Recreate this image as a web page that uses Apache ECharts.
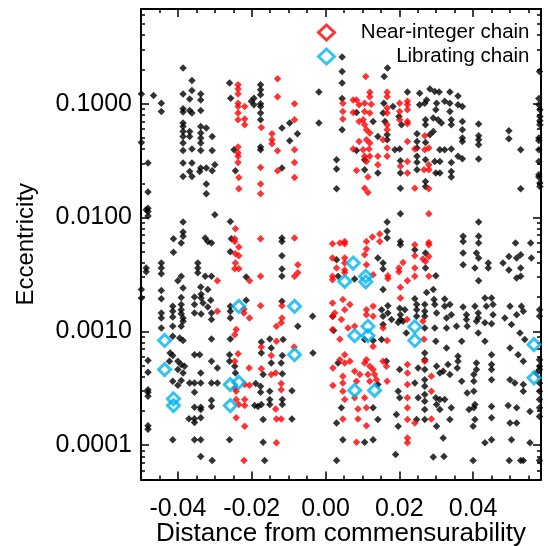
<!DOCTYPE html>
<html><head><meta charset="utf-8">
<script src="https://cdn.jsdelivr.net/npm/echarts@6/dist/echarts.min.js"></script>
<style>html,body{margin:0;padding:0;background:#fff}#c{width:548px;height:546px}</style>
</head><body><div id="c"></div>
<script>
const xMajorTicks=[-0.04,-0.02,0,0.02,0.04];
const yMajorTicks=[0.0001,0.001,0.01,0.1];
const yMinorTicks=[0.00006,0.00007,0.00008,0.00009,0.0002,0.0003,0.0004,0.0005,0.0006,0.0007,0.0008,0.0009,0.002,0.003,0.004,0.005,0.006,0.007,0.008,0.009,0.02,0.03,0.04,0.05,0.06,0.07,0.08,0.09,0.2,0.3,0.4,0.5,0.6];

const otherSystems=[
[-0.0386,0.206],[-0.0362,0.160],[-0.0260,0.152],[-0.0176,0.147],[0.0045,0.257],[0.0045,0.192],[0.0168,0.206],[0.0159,0.174],
[-0.0499,0.122],[-0.0466,0.118],[-0.0386,0.122],[-0.0362,0.131],[-0.0338,0.122],[-0.0176,0.133],[-0.0176,0.120],[-0.0018,0.127],
[-0.0257,0.112],[-0.0368,0.110],[-0.0338,0.108],[-0.0194,0.112],[-0.0201,0.105],[-0.0445,0.101],[-0.0445,0.0856],[-0.0386,0.0904],
[-0.0386,0.0846],[-0.0368,0.0873],[-0.0362,0.0829],[-0.0338,0.0873],[-0.0194,0.098],[-0.0176,0.100],[-0.0176,0.0947],[-0.0176,0.0829],
[-0.0176,0.0724],[-0.0097,0.0677],[-0.0018,0.0677],[-0.0386,0.0677],[-0.0386,0.0632],[-0.0338,0.0632],[-0.0323,0.0612],[-0.0118,0.0612],
[-0.0386,0.0571],[-0.0368,0.0571],[-0.0386,0.0516],[-0.0368,0.0516],[-0.0338,0.0553],[-0.0338,0.0500],[-0.0307,0.0516],[-0.0076,0.0545],
[-0.0386,0.0452],[-0.0338,0.0452],[-0.0499,0.0457],[-0.0097,0.0473],[-0.0386,0.0389],[-0.0362,0.0400],[-0.0338,0.0389],[-0.0307,0.0389],
[-0.0248,0.0394],[-0.0176,0.0417],[-0.0176,0.0394],[0.0030,0.0322],[-0.0481,0.0302],[-0.0386,0.0302],[-0.0362,0.0302],[-0.0323,0.0272],
[-0.0300,0.0291],[-0.0338,0.0272],[-0.0341,0.0254],[-0.0307,0.0258],[-0.0368,0.0254],[-0.0362,0.0230],[-0.0386,0.0230],[-0.0244,0.0258],
[-0.0118,0.0272],[0.0030,0.0267],[-0.0323,0.0197],[-0.0323,0.0162],[-0.0481,0.0168],[0.0030,0.0179],[-0.0486,0.0117],[-0.0481,0.0121],[-0.0481,0.0103],
[0.0045,0.152],[0.0045,0.111],[0.0045,0.0591],[0.0084,0.0839],[0.0084,0.0389],[0.0106,0.0322],[0.0106,0.0263],[0.0158,0.101],
[0.0156,0.0829],[0.0129,0.0700],[0.0161,0.0700],[0.0167,0.0534],[0.0142,0.0516],[0.0167,0.0483],[0.0142,0.0246],[0.0183,0.0947],
[0.0222,0.127],[0.0199,0.0774],[0.0206,0.0654],[0.0188,0.0394],[0.0201,0.0400],[0.0203,0.0315],[0.0203,0.0246],[0.0203,0.0181],
[0.0255,0.124],[0.0255,0.098],[0.0269,0.101],[0.0274,0.108],[0.0283,0.135],[0.0296,0.128],[0.0308,0.127],[0.0301,0.101],
[0.0299,0.0886],[0.0323,0.105],[0.0337,0.127],[0.0337,0.101],[0.0337,0.0856],[0.0359,0.117],[0.0359,0.098],[0.0371,0.0947],
[0.0271,0.0724],[0.0271,0.0654],[0.0292,0.0749],[0.0305,0.0724],[0.0314,0.0677],[0.0341,0.0724],[0.0341,0.0654],[0.0371,0.0700],
[0.0371,0.0591],[0.0371,0.0500],[0.0371,0.0467],[0.0292,0.0571],[0.0283,0.0534],[0.0248,0.0545],[0.0248,0.0467],[0.0248,0.0408],
[0.0271,0.0457],[0.0310,0.0394],[0.0323,0.0394],[0.0341,0.0400],[0.0248,0.0345],[0.0248,0.0307],[0.0248,0.0263],[0.0271,0.0322],
[0.0296,0.0311],[0.0310,0.0311],[0.0310,0.0246],[0.0299,0.0246],[0.0341,0.0304],[0.0341,0.0254],[0.0341,0.0227],[0.0359,0.0345],
[0.0371,0.0329],[0.0271,0.0208],[0.0271,0.0188],[0.0415,0.0663],[0.0415,0.0524],[0.0415,0.0483],[0.0415,0.0437],[0.0415,0.0327],
[0.0497,0.0579],[0.0497,0.0493],[0.0529,0.0394],[0.0529,0.0179],[0.0578,0.111],[0.0578,0.098],[0.0581,0.0886],[0.0581,0.0774],
[0.0581,0.0710],[0.0581,0.0654],[0.0578,0.0500],[0.0578,0.0476],[0.0578,0.0394],[0.0578,0.0238],[0.0578,0.0227],[0.0581,0.0201],
[0.0581,0.0188],[0.0578,0.0311],[0.0580,0.192],
[-0.0481,0.0113],[-0.0300,0.0106],[-0.0386,0.00915],[-0.0258,0.00926],[-0.0386,0.00747],[-0.0386,0.00684],[-0.0412,0.00653],[-0.0391,0.00598],
[-0.0326,0.00662],[-0.0319,0.00618],[-0.0309,0.00598],[-0.0255,0.00653],[-0.0118,0.00662],[-0.0118,0.00618],[-0.0412,0.00496],[-0.0258,0.00500],
[-0.0118,0.00463],[-0.0486,0.00360],[-0.0486,0.00334],[-0.0445,0.00399],[-0.0445,0.00360],[-0.0445,0.00321],[-0.0346,0.00399],[-0.0346,0.00360],
[-0.0346,0.00327],[-0.0118,0.00353],[0.0034,0.00305],[-0.0391,0.00305],[-0.0400,0.00279],[-0.0326,0.00305],[-0.0309,0.00305],[-0.0215,0.00301],
[-0.0118,0.00305],[-0.0445,0.00229],[-0.0499,0.00233],[-0.0499,0.00197],[-0.0386,0.00241],[-0.0338,0.00246],[-0.0319,0.00233],[-0.0337,0.00212],
[-0.0445,0.00194],[-0.0391,0.00199],[-0.0355,0.00201],[-0.0337,0.00197],[-0.0311,0.00188],[-0.0215,0.00188],[-0.0118,0.00184],[-0.0414,0.00166],
[-0.0391,0.00172],[-0.0391,0.00155],[-0.0355,0.00172],[-0.0332,0.00178],[-0.0319,0.00164],[-0.0258,0.00166],[-0.0414,0.00150],[-0.0414,0.00134],
[-0.0391,0.00143],[-0.0386,0.00131],[-0.0355,0.00145],[-0.0337,0.00142],[-0.0309,0.00145],[-0.0309,0.00127],[-0.0258,0.00150],[-0.0258,0.00131],
[-0.0035,0.00136],[-0.0445,0.00145],[-0.0445,0.00131],
[-0.0445,0.00107],[-0.0414,0.00111],[-0.0391,0.00111],[-0.0386,0.00123],[-0.0075,0.00111],[-0.0414,0.000906],[-0.0395,0.000874],[-0.0386,0.000833],
[-0.0309,0.000859],[-0.0258,0.000859],[-0.0151,0.000859],[-0.0174,0.000807],[-0.0115,0.000847],[-0.0147,0.000716],[-0.0034,0.000647],[-0.0117,0.000613],
[-0.0174,0.000647],[-0.0421,0.000647],[-0.0414,0.000613],[-0.0355,0.000625],[-0.0341,0.000625],[-0.0260,0.000625],[-0.0481,0.000554],[-0.0423,0.000546],
[-0.0400,0.000546],[-0.0391,0.000511],[-0.0382,0.000494],[-0.0309,0.000546],[-0.0260,0.000546],[-0.0293,0.000478],[-0.0246,0.000494],[-0.0147,0.000529],
[-0.0120,0.000529],[0.0034,0.000529],[-0.0481,0.000437],[-0.0400,0.000462],[-0.0386,0.000432],[-0.0338,0.000432],[-0.0244,0.000432],[-0.0169,0.000418],
[-0.0117,0.000425],[-0.0414,0.000365],[-0.0391,0.000370],[-0.0400,0.000336],[-0.0368,0.000353],[-0.0355,0.000353],[-0.0338,0.000353],[-0.0309,0.000353],
[-0.0293,0.000353],[-0.0355,0.000292],[-0.0189,0.000348],[-0.0176,0.000329],[-0.0176,0.000292],[-0.0151,0.000298],[-0.0091,0.000301],[-0.0481,0.000308],
[-0.0481,0.000292],[-0.0355,0.000216],[-0.0338,0.000216],[-0.0338,0.000206],[-0.0309,0.000248],[-0.0309,0.000219],[-0.0192,0.000223],[-0.0183,0.000219],
[-0.0174,0.000228],[-0.0151,0.000252],[-0.0151,0.000228],[-0.0117,0.000252],[-0.0117,0.000228],[-0.0370,0.000171],[-0.0355,0.000171],[-0.0338,0.000174],
[-0.0355,0.000158],[-0.0169,0.000168],[-0.0091,0.000170],[-0.0481,0.000148],[-0.0481,0.000138],[0.0030,0.000157],[-0.0414,0.000112],[-0.0355,0.000112],
[-0.0338,0.000112],[-0.0260,0.000112],[-0.0169,0.000106],[-0.0338,0.0000797],[-0.0307,0.0000735],[-0.0165,0.0000735],[0.0030,0.0000735],[0.0190,0.0000828],
[0.0292,0.0000788],[0.0321,0.0000797],[0.0400,0.0000735],[0.0498,0.0000735],[0.0529,0.0000735],[0.0536,0.0000735],[0.0580,0.0000735],[-0.0481,0.000269],
[0.0203,0.0108],[0.0167,0.00915],[0.0167,0.00757],[0.0167,0.00662],[0.0415,0.00915],[0.0203,0.00618],[0.0203,0.00578],[0.0242,0.00523],
[0.0271,0.00489],[0.0271,0.00360],[0.0156,0.00353],[0.0156,0.00399],[0.0142,0.00442],[0.0299,0.00309],[0.0156,0.00233],[0.0030,0.00426],
[0.0079,0.00289],[0.0292,0.00233],[0.0242,0.00194],[0.0274,0.00220],[0.0294,0.00191],[0.0323,0.00193],[0.0337,0.00172],[0.0373,0.00684],
[0.0373,0.00618],[0.0373,0.00489],[0.0373,0.00386],[0.0415,0.00684],[0.0415,0.00598],[0.0409,0.00489],[0.0415,0.00442],[0.0441,0.00399],
[0.0441,0.00360],[0.0405,0.00360],[0.0415,0.00279],[0.0481,0.00399],[0.0497,0.00456],[0.0515,0.00598],[0.0518,0.00442],[0.0529,0.00472],
[0.0497,0.00346],[0.0529,0.00360],[0.0529,0.00305],[0.0518,0.00295],[0.0556,0.00598],[0.0558,0.00442],[0.0432,0.00197],[0.0450,0.00197],
[0.0436,0.00166],[0.0454,0.00172],[0.0500,0.00166],[0.0531,0.00166],[0.0373,0.00164],[0.0405,0.00166],[0.0414,0.00145],[0.0382,0.00140],
[0.0382,0.00127],[0.0414,0.00131],[0.0518,0.00140],[0.0536,0.00150],[0.0580,0.00155],[0.0580,0.00136],[0.0486,0.00131],[0.0454,0.00140],
[0.0169,0.00168],[0.0169,0.00145],[0.0201,0.00160],[0.0203,0.00140],[0.0203,0.00127],[0.0215,0.00155],[0.0247,0.00172],[0.0247,0.00155],
[0.0247,0.00136],[0.0269,0.00172],[0.0269,0.00150],[0.0269,0.00136],[0.0296,0.00172],[0.0301,0.00145],[0.0323,0.00166],[0.0341,0.00140],
[0.0328,0.00131],[0.0156,0.00136],[0.0152,0.00155],[0.0179,0.00127],[0.0020,0.00136],[0.0156,0.00115],[0.0197,0.00120],
[0.0022,0.00102],[0.0106,0.000847],[0.0129,0.000833],[0.0152,0.000847],[0.0210,0.00123],[0.0219,0.000970],[0.0269,0.00107],[0.0296,0.00107],
[0.0299,0.000818],[0.0328,0.00107],[0.0328,0.000716],[0.0355,0.00111],[0.0384,0.00111],[0.0409,0.00123],[0.0432,0.00119],[0.0432,0.000818],
[0.0450,0.00117],[0.0414,0.000970],[0.0450,0.000625],[0.0504,0.00115],[0.0527,0.000970],[0.0540,0.000847],[0.0500,0.000716],[0.0522,0.000625],
[0.0536,0.000546],[0.0580,0.000565],[0.0580,0.000494],[0.0580,0.000462],[0.0572,0.000432],[0.0580,0.000353],[0.0580,0.000298],[0.0580,0.000252],
[0.0580,0.000213],[0.0580,0.000179],[0.0554,0.000198],[0.0536,0.000298],[0.0536,0.000341],[0.0513,0.000353],[0.0500,0.000377],[0.0518,0.000213],
[0.0495,0.000223],[0.0554,0.000105],[0.0500,0.000157],[0.0518,0.000157],[0.0504,0.000112],[0.0450,0.000511],[0.0450,0.000462],[0.0450,0.000377],
[0.0450,0.000219],[0.0450,0.000174],[0.0450,0.000112],[0.0432,0.000105],[0.0402,0.000418],[0.0402,0.000365],[0.0402,0.000298],[0.0405,0.000228],
[0.0402,0.000213],[0.0409,0.000529],[0.0409,0.000462],[0.0405,0.000168],[0.0400,0.000147],[0.0384,0.000288],[0.0389,0.000206],[0.0369,0.000365],
[0.0369,0.000818],[0.0359,0.000604],[0.0359,0.000546],[0.0357,0.000478],[0.0337,0.000418],[0.0332,0.000511],[0.0319,0.000446],[0.0301,0.000494],
[0.0310,0.000432],[0.0299,0.000261],[0.0310,0.000252],[0.0323,0.000252],[0.0301,0.000228],[0.0310,0.000206],[0.0341,0.000213],[0.0337,0.000168],
[0.0301,0.000147],[0.0319,0.000116],[0.0269,0.000647],[0.0269,0.000565],[0.0269,0.000462],[0.0269,0.000377],[0.0269,0.000329],[0.0269,0.000279],
[0.0269,0.000243],[0.0269,0.000206],[0.0269,0.000168],[0.0251,0.000478],[0.0242,0.000353],[0.0251,0.000261],[0.0247,0.000168],[0.0201,0.000462],
[0.0197,0.000298],[0.0201,0.000261],[0.0192,0.000186],[0.0197,0.000147],[0.0165,0.000546],[0.0142,0.000341],[0.0129,0.000213],[0.0142,0.000168],
[0.0043,0.000213],[0.0047,0.000112],[0.0106,0.000106],[0.0129,0.000112]
];

const nearIntegerChain=[
[-0.0237,0.147],[-0.0130,0.166],[-0.0237,0.135],[-0.0237,0.122],[-0.0130,0.115],[-0.0237,0.101],[-0.0237,0.0947],[-0.0219,0.0947],
[-0.0084,0.100],[-0.0237,0.0829],[-0.0237,0.0724],[-0.0219,0.0734],[-0.0219,0.0654],[-0.0084,0.0724],[-0.0174,0.0619],[-0.0145,0.0545],
[-0.0145,0.0483],[-0.0145,0.0446],[-0.0237,0.0417],[-0.0237,0.0369],[-0.0130,0.0387],[-0.0084,0.0394],[-0.0237,0.0345],[-0.0237,0.0304],
[-0.0176,0.0276],[-0.0130,0.0258],[-0.0084,0.0304],[-0.0084,0.0225],[-0.0235,0.0225],[-0.0235,0.0179],[-0.0176,0.0197],[-0.0176,0.0162],
[0.0109,0.174],[0.0047,0.101],[0.0047,0.0856],[0.0047,0.0734],[0.0075,0.108],[0.0084,0.108],[0.0075,0.0839],[0.0091,0.098],
[0.0106,0.101],[0.0120,0.126],[0.0120,0.115],[0.0124,0.099],[0.0106,0.0856],[0.0120,0.0829],[0.0091,0.0700],[0.0102,0.0724],
[0.0106,0.0654],[0.0111,0.0591],[0.0120,0.0553],[0.0111,0.0483],[0.0120,0.0452],[0.0091,0.0467],[0.0075,0.0400],[0.0102,0.0394],
[0.0118,0.0400],[0.0106,0.0345],[0.0111,0.0311],[0.0084,0.0259],[0.0115,0.0227],[0.0106,0.0181],[0.0115,0.0166],[0.0167,0.126],
[0.0167,0.115],[0.0167,0.0917],[0.0167,0.0829],[0.0167,0.0654],[0.0167,0.0591],[0.0156,0.0483],[0.0167,0.0408],[0.0167,0.0345],
[0.0142,0.0345],[0.0142,0.0291],[0.0120,0.0345],[0.0201,0.101],[0.0201,0.0856],[0.0201,0.0724],[0.0222,0.105],[0.0222,0.098],
[0.0222,0.0886],[0.0222,0.0700],[0.0222,0.0667],[0.0222,0.0467],[0.0203,0.0282],[0.0222,0.0311],[0.0222,0.0246],[0.0242,0.0181],
[0.0269,0.0524],[0.0242,0.0400],[0.0269,0.0394],[0.0280,0.0408],[0.0280,0.0291],[0.0267,0.0263],[0.0280,0.0263],[0.0280,0.0179],
[-0.0244,0.00799],[-0.0246,0.00653],[-0.0246,0.00618],[-0.0235,0.00552],[-0.0176,0.00653],[-0.0084,0.00662],[0.0019,0.00590],[-0.0244,0.00482],
[-0.0235,0.00463],[0.0019,0.00442],[-0.0244,0.00399],[-0.0246,0.00355],[-0.0235,0.00355],[-0.0075,0.00386],[-0.0075,0.00327],[-0.0084,0.00305],
[0.0019,0.00305],[0.0019,0.00284],[-0.0293,0.00279],[-0.0206,0.00279],[-0.0176,0.00305],[-0.0221,0.00157],[-0.0176,0.00168],[-0.0118,0.00168],
[0.0019,0.00178],[-0.0293,0.00150],[-0.0221,0.00145],[-0.0206,0.00131],[-0.0118,0.00131],[0.0019,0.00136],
[-0.0242,0.00104],[-0.0246,0.000937],[-0.0133,0.00111],[-0.0120,0.00119],[0.0019,0.00104],[-0.0133,0.000818],[-0.0085,0.000728],[-0.0174,0.000728],
[-0.0147,0.000613],[-0.0237,0.000637],[-0.0246,0.000546],[-0.0207,0.000478],[-0.0174,0.000469],[0.0020,0.000478],[-0.0135,0.000432],[-0.0147,0.000418],
[-0.0242,0.000298],[-0.0246,0.000319],[-0.0219,0.000341],[-0.0206,0.000336],[-0.0120,0.000348],[-0.0120,0.000308],[0.0020,0.000334],[-0.0242,0.000252],
[-0.0235,0.000228],[-0.0219,0.000252],[-0.0219,0.000223],[-0.0135,0.000208],[-0.0242,0.000174],[-0.0219,0.000147],[-0.0133,0.000170],[-0.0120,0.000170],
[-0.0133,0.000105],[-0.0221,0.0000735],
[0.0280,0.0108],[0.0147,0.00717],[0.0147,0.00618],[0.0127,0.00675],[0.0111,0.00618],[0.0111,0.00530],[0.0052,0.00618],[0.0052,0.00590],
[0.0039,0.00598],[0.0242,0.00578],[0.0280,0.00605],[0.0280,0.00578],[0.0280,0.00456],[0.0264,0.00433],[0.0271,0.00412],[0.0242,0.00463],
[0.0210,0.00404],[0.0199,0.00360],[0.0199,0.00334],[0.0242,0.00360],[0.0242,0.00305],[0.0280,0.00305],[0.0222,0.00279],[0.0169,0.00309],
[0.0169,0.00291],[0.0203,0.00244],[0.0203,0.00197],[0.0106,0.00472],[0.0111,0.00386],[0.0052,0.00442],[0.0052,0.00399],[0.0030,0.00360],
[0.0052,0.00346],[0.0052,0.00327],[0.0129,0.00315],[0.0047,0.00191],[0.0025,0.00145],[0.0052,0.00155],[0.0066,0.00172],[0.0043,0.00127],
[0.0111,0.00155],[0.0129,0.00166],[0.0111,0.00140],[0.0129,0.00136],[0.0221,0.00127],[0.0264,0.00123],[0.0079,0.00111],[0.0061,0.00107],
[0.0039,0.000854],[0.0129,0.000737],[0.0156,0.00107],[0.0167,0.000833],[0.0267,0.000854],[0.0269,0.000546],[0.0287,0.000403],[0.0287,0.000298],
[0.0287,0.000170],[0.0222,0.000511],[0.0222,0.000432],[0.0222,0.000341],[0.0222,0.000261],[0.0222,0.000213],[0.0222,0.000168],[0.0242,0.000157],
[0.0222,0.000116],[0.0222,0.000105],[0.0156,0.000546],[0.0111,0.000565],[0.0106,0.000529],[0.0120,0.000494],[0.0129,0.000462],[0.0115,0.000418],
[0.0133,0.000418],[0.0120,0.000365],[0.0138,0.000377],[0.0165,0.000494],[0.0167,0.000365],[0.0052,0.000625],[0.0039,0.000565],[0.0052,0.000529],
[0.0066,0.000546],[0.0079,0.000446],[0.0093,0.000418],[0.0084,0.000365],[0.0047,0.000403],[0.0047,0.000353],[0.0047,0.000298],[0.0079,0.000261],
[0.0052,0.000252],[0.0106,0.000261],[0.0111,0.000213],[0.0088,0.000208],[0.0047,0.000170],[0.0088,0.000170],[0.0111,0.000148],[0.0084,0.000106]
];

const libratingChain=[
[-0.0235,0.00166],[-0.0084,0.00166],[-0.0436,0.000833],[-0.0436,0.000462],[-0.0084,0.000625],[-0.0412,0.000256],[-0.0412,0.000223],[-0.0258,0.000341],
[-0.0235,0.000357],[-0.0258,0.000223],[0.0075,0.00399],[0.0052,0.00275],[0.0109,0.00305],[0.0109,0.00273],[0.0115,0.00111],[0.0242,0.00110],
[0.0079,0.000918],[0.0115,0.000918],[0.0242,0.000833],[0.0565,0.000766],[0.0565,0.000391],[0.0133,0.000303],[0.0079,0.000303]
];

const FONT='"Liberation Sans", Arial, Helvetica, sans-serif';
const XMIN=-0.05, XMAX=0.0584, YMIN=0.00005, YMAX=0.68;
const BLK='#000';
const axLine={show:true,onZero:false,lineStyle:{color:BLK,width:2}};
const noLine={show:false,onZero:false};

function xAx(pos, major){
  const a={type:'value',position:pos,min:XMIN,max:XMAX,interval:0.005,
    axisLine: major?noLine:axLine, splitLine:{show:false},
    axisTick: major?{show:true,inside:true,length:8,customValues:xMajorTicks,lineStyle:{color:BLK,width:1.5}}
                   :{show:true,inside:true,length:4,lineStyle:{color:BLK,width:1.5}},
    axisLabel:{show:false}};
  if(major && pos==='bottom'){
    a.axisLabel={show:true,customValues:xMajorTicks,formatter:v=>v.toFixed(2),fontSize:25,color:BLK,fontFamily:FONT,margin:17};
    a.name='Distance from commensurability';a.nameLocation='middle';a.nameGap=41;a.nameMoveOverlap=false;
    a.nameTextStyle={fontSize:26,color:BLK,fontFamily:FONT};
  }
  return a;
}
function yAx(pos, major){
  const a={type:'log',logBase:10,position:pos,min:YMIN,max:YMAX,
    axisLine: major?noLine:axLine, splitLine:{show:false}, minorTick:{show:false},
    axisTick: major?{show:true,inside:true,length:8,customValues:yMajorTicks,lineStyle:{color:BLK,width:1.5}}
                   :{show:true,inside:true,length:4,customValues:yMinorTicks,lineStyle:{color:BLK,width:1.5}},
    axisLabel:{show:false}};
  if(major && pos==='left'){
    a.axisLabel={show:true,customValues:yMajorTicks,formatter:v=>Number(v).toFixed(4),fontSize:25,color:BLK,fontFamily:FONT,margin:9};
    a.name='Eccentricity';a.nameLocation='middle';a.nameGap=103;a.nameRotate=90;a.nameMoveOverlap=false;
    a.nameTextStyle={fontSize:24,color:BLK,fontFamily:FONT};
  }
  return a;
}

const chart=echarts.init(document.getElementById('c'),null,{renderer:'canvas'});
chart.setOption({
  animation:false,
  backgroundColor:'#fff',
  grid:{left:141,right:7,top:9,bottom:66.5,containLabel:false,outerBoundsMode:'none'},
  xAxis:[xAx('bottom',false),xAx('bottom',true),xAx('top',false),xAx('top',true)],
  yAxis:[yAx('left',false),yAx('left',true),yAx('right',false),yAx('right',true)],
  legend:{orient:'vertical',left:312,top:17,padding:5,itemWidth:16,itemHeight:15,itemGap:3,
    formatter:n=>'{t|'+n+'}',
    textStyle:{fontSize:20.5,fontFamily:FONT,color:BLK,lineHeight:20,
      rich:{t:{width:190,align:'right',fontSize:20.5,fontFamily:FONT,color:BLK,lineHeight:20}}},
    data:[
      {name:'Near-integer chain',icon:'diamond',itemStyle:{color:'rgba(0,0,0,0)',borderColor:'#ff0000',borderWidth:3}},
      {name:'Librating chain',icon:'diamond',itemStyle:{color:'rgba(0,0,0,0)',borderColor:'#00b4f0',borderWidth:3}}
    ]},
  series:[
    {type:'scatter',name:'Other systems',data:otherSystems,xAxisIndex:0,yAxisIndex:0,symbol:'diamond',symbolSize:7.5,
      itemStyle:{color:BLK},z:2,silent:true},
    {type:'scatter',name:'Near-integer chain',data:nearIntegerChain,xAxisIndex:0,yAxisIndex:0,symbol:'diamond',symbolSize:7.5,
      itemStyle:{color:'#ff0000'},z:3,silent:true},
    {type:'scatter',name:'Librating chain',data:libratingChain,xAxisIndex:0,yAxisIndex:0,symbol:'diamond',symbolSize:12,
      itemStyle:{color:'rgba(0,0,0,0)',borderColor:'#00b4f0',borderWidth:3},z:4,silent:true}
  ]
});
</script>
</body></html>
